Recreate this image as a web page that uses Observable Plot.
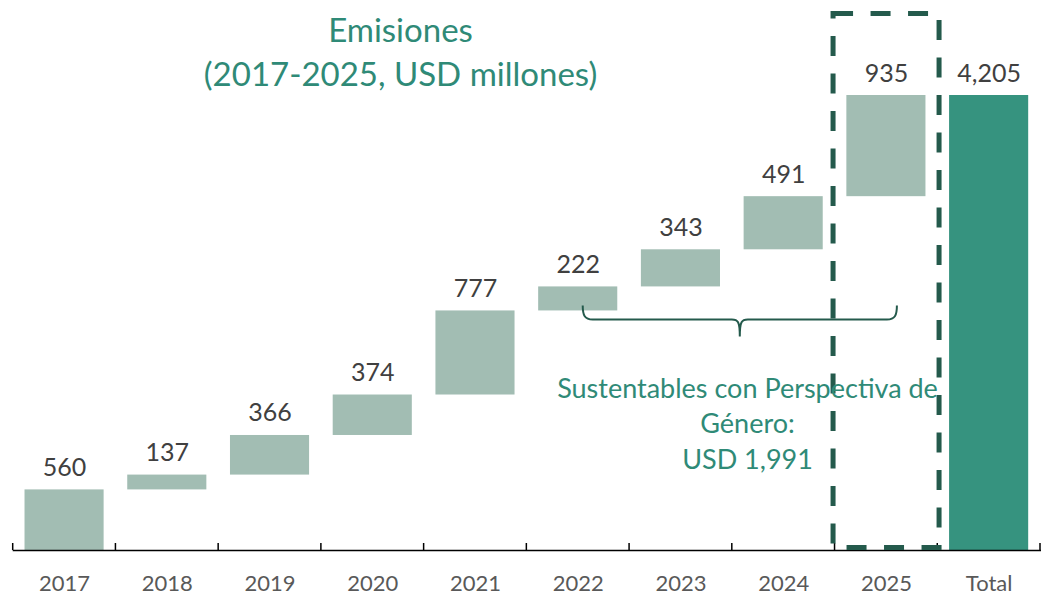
<!DOCTYPE html>
<html>
<head>
<meta charset="utf-8">
<script src="https://cdn.jsdelivr.net/npm/d3@7"></script>
<script src="https://cdn.jsdelivr.net/npm/@observablehq/plot@0.6"></script>
<style>
  html, body { margin: 0; padding: 0; background: #ffffff; }
  #chart svg { display: block; }
</style>
</head>
<body>
<div id="chart"></div>
<script>
// ---- data ----
const categories = ["2017", "2018", "2019", "2020", "2021", "2022", "2023", "2024", "2025", "Total"];
const yearValues = [560, 137, 366, 374, 777, 222, 343, 491, 935];
const totalValue = 4205;
const titleText = "Emisiones\n(2017-2025, USD millones)";
const noteText = "Sustentables con Perspectiva de\nGénero:\nUSD 1,991";
const braceFrom = "2022";
const braceTo = "2025";
const boxCategory = "2025";
const boxTop = 4958;

// ---- colours ----
const lightBar = "#a2bdb3";
const darkBar = "#36937f";
const teal = "#2f8a77";
const darkGreen = "#245a4c";

// ---- waterfall rows ----
let cum = 0;
const rows = yearValues.map((v, i) => {
  const r = {cat: categories[i], start: cum, end: cum + v, value: v};
  cum += v;
  return r;
});
const totalRow = {cat: "Total", start: 0, end: totalValue, value: totalValue};
const fmt = d3.format(",");

// axis ticks + brace drawn with the scales
function axisAndBrace(index, scales) {
  const x = scales.x, y = scales.y;
  const bw = x.bandwidth();
  const step = x(categories[1]) - x(categories[0]);
  const off = (step - bw) / 2;
  const g = d3.create("svg:g");
  const y0 = y(0);
  const bounds = categories.map(c => x(c) - off).concat([x(categories[categories.length - 1]) + bw + off]);
  g.selectAll("line.tick").data(bounds).join("line")
    .attr("x1", d => d).attr("x2", d => d)
    .attr("y1", y0 - 7).attr("y2", y0)
    .attr("stroke", "#000").attr("stroke-width", 1.5);
  // brace
  const i0 = categories.indexOf(braceFrom);
  const x1 = x(braceFrom) + bw / 2 + 5;
  const x2 = x(braceTo) + bw / 2 + 11;
  const top = y(rows[i0].start) - 5;
  const h = top + 14;
  const tip = top + 31;
  const mid = (x1 + x2) / 2;
  const p = `M${x1},${top} C${x1},${top + 10} ${x1 + 2},${h} ${x1 + 10},${h} L${mid - 8},${h} C${mid - 2},${h} ${mid},${h + 2} ${mid},${tip} C${mid},${h + 2} ${mid + 2},${h} ${mid + 8},${h} L${x2 - 10},${h} C${x2 - 2},${h} ${x2},${top + 10} ${x2},${top}`;
  g.append("path").attr("d", p).attr("fill", "none")
    .attr("stroke", darkGreen).attr("stroke-width", 2);
  return g.node();
}

const chart = Plot.plot({
  width: 1041,
  height: 596,
  marginTop: 0, marginBottom: 0, marginLeft: 0, marginRight: 0,
  style: {fontFamily: "Lato, 'Open Sans', sans-serif", background: "#ffffff"},
  x: {domain: categories, range: [12.7, 1040], paddingInner: 0.23, paddingOuter: 0.115, round: false, axis: null},
  y: {domain: [0, totalValue], range: [550, 95], axis: null},
  marks: [
    Plot.barY(rows, {x: "cat", y1: "start", y2: "end", fill: lightBar}),
    Plot.barY([totalRow], {x: "cat", y1: "start", y2: "end", fill: darkBar}),
    Plot.ruleY([0], {insetLeft: 12.7, stroke: "#000", strokeWidth: 1.5}),
    axisAndBrace,
    Plot.barY([{cat: boxCategory}], {
      x: "cat", y1: 0, y2: () => boxTop, insetBottom: 2.5,
      insetLeft: -13.3, insetRight: -13.6,
      fill: "none", stroke: darkGreen, strokeWidth: 5, strokeDasharray: "20,17.5"
    }),
    Plot.text(rows.concat([totalRow]), {
      x: "cat", y: "end", text: d => fmt(d.value),
      lineAnchor: "bottom", dy: -14, fontSize: 25, fill: "#404040"
    }),
    Plot.text(categories, {
      x: d => d, frameAnchor: "bottom", lineAnchor: "bottom", dy: -6,
      fontSize: 22, fill: "#595959"
    }),
    Plot.text([titleText], {
      frameAnchor: "top", lineAnchor: "top", dx: -120.5, dy: 10.5,
      fontSize: 33, lineHeight: 1.33, fill: teal
    }),
    Plot.text([noteText], {
      frameAnchor: "top", lineAnchor: "top", dx: 226.5, dy: 371.5,
      fontSize: 27, lineHeight: 1.33, fill: teal
    })
  ]
});
document.getElementById("chart").appendChild(chart);
</script>
</body>
</html>
